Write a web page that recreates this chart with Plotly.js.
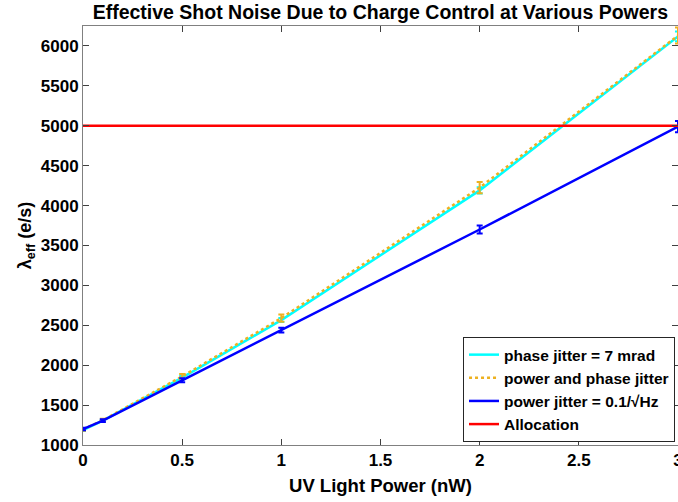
<!DOCTYPE html>
<html>
<head>
<meta charset="utf-8">
<script src="https://cdn.plot.ly/plotly-3.0.1.min.js"></script>
<style>html,body{margin:0;padding:0;background:#fff;}#chart{width:678px;height:502px;}</style>
</head>
<body>
<div id="chart"></div>
<script>
const powers = [0, 0.1, 0.5, 1, 2, 3];
const phaseJitter = [1185, 1305, 1845, 2565, 4190, 6120];
const phaseJitterErr = [10, 12, 20, 25, 40, 60];
const powerPhaseJitter = [1195, 1310, 1860, 2590, 4225, 6130];
const powerPhaseJitterErr = [15, 18, 30, 45, 70, 100];
const powerJitter = [1200, 1305, 1810, 2440, 3700, 4990];
const powerJitterErr = [15, 18, 25, 30, 50, 70];
const allocationX = [0, 3];
const allocation = [5000, 5000];
const seriesNames = ['phase jitter = 7 mrad', 'power and phase jitter', 'power jitter = 0.1/√Hz', 'Allocation'];
const xTicks = [0, 0.5, 1, 1.5, 2, 2.5, 3];
const yTicks = [1000, 1500, 2000, 2500, 3000, 3500, 4000, 4500, 5000, 5500, 6000];

const fontFam = '"Liberation Sans", Arial, Helvetica, sans-serif';
function errTrace(y, err, name, color, dash) {
  return {
    x: powers, y: y, name: name, type: 'scatter', mode: 'lines',
    line: {color: color, width: 2.5, dash: dash},
    error_y: {type: 'data', array: err, visible: true, color: color, thickness: 2, width: 3}
  };
}
const data = [
  errTrace(phaseJitter, phaseJitterErr, seriesNames[0], '#00FFFF', 'solid'),
  errTrace(powerPhaseJitter, powerPhaseJitterErr, seriesNames[1], '#EDB120', 'dot'),
  errTrace(powerJitter, powerJitterErr, seriesNames[2], '#0000FF', 'solid'),
  {x: allocationX, y: allocation, name: seriesNames[3], type: 'scatter', mode: 'lines',
   line: {color: '#FF0000', width: 2.5}}
];
const axisCommon = {
  showgrid: false, zeroline: false, showline: true, linecolor: '#808080', linewidth: 1,
  mirror: 'ticks', ticks: 'inside', ticklen: 6, tickcolor: '#404040', tickwidth: 1,
  ticklabeloverflow: 'allow',
  tickfont: {family: fontFam, size: 17, color: '#000', weight: 'bold'}
};
const layout = {
  width: 678, height: 502,
  margin: {l: 83, r: 0, t: 26, b: 57},
  paper_bgcolor: '#fff', plot_bgcolor: '#fff',
  font: {family: fontFam, color: '#000', weight: 'bold'},
  title: {text: 'Effective Shot Noise Due to Charge Control at Various Powers',
          font: {family: fontFam, size: 19.5, color: '#000', weight: 'bold'},
          x: 0.561, xanchor: 'center', y: 0.975, yanchor: 'middle'},
  xaxis: Object.assign({}, axisCommon, {
    range: [0, 3], tickvals: xTicks, ticktext: xTicks.map(String),
    title: {text: 'UV Light Power (nW)', font: {family: fontFam, size: 18.5, color: '#000', weight: 'bold'}, standoff: 9}
  }),
  yaxis: Object.assign({}, axisCommon, {
    range: [1000, 6250], tickvals: yTicks, ticktext: yTicks.map(String),
    title: {text: 'λ<sub>eff</sub> (e/s)', font: {family: fontFam, size: 18, color: '#000', weight: 'bold'}, standoff: 4}
  }),
  showlegend: true,
  legend: {
    x: 0.995, y: 0.007, xanchor: 'right', yanchor: 'bottom',
    bgcolor: '#fff', bordercolor: '#262626', borderwidth: 1,
    font: {family: fontFam, size: 15.5, color: '#000', weight: 'bold'},
    tracegroupgap: 0, itemwidth: 30
  }
};
Plotly.newPlot('chart', data, layout, {displayModeBar: false, staticPlot: true});
</script>
</body>
</html>
